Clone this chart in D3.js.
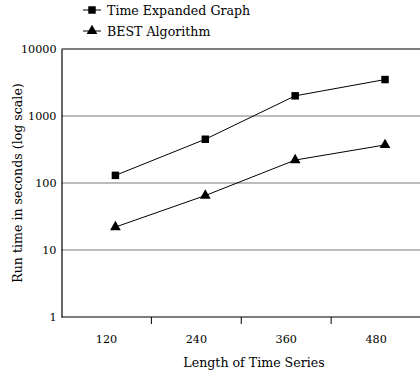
<!DOCTYPE html>
<html>
<head>
<meta charset="utf-8">
<script src="https://cdn.jsdelivr.net/npm/d3@7"></script>
<style>
  body { margin: 0; background: #fff; }
  svg { display: block; font-family: "DejaVu Serif", serif; }
</style>
</head>
<body>
<svg id="chart" width="420" height="377"></svg>
<script>
// data
const lengths = ["120", "240", "360", "480"];
const timeExpanded = [130, 450, 2000, 3500];
const bestAlgorithm = [22, 65, 220, 370];
const yTicks = [1, 10, 100, 1000, 10000];
const seriesNames = ["Time Expanded Graph", "BEST Algorithm"];

const svg = d3.select("#chart");

const margin = { top: 49, right: -1, bottom: 60, left: 61.5 };
const width = +svg.attr("width");
const height = +svg.attr("height");
const titleSize = 12.6;

const x = d3.scaleBand()
  .domain(lengths)
  .range([margin.left, width - margin.right]);

const y = d3.scaleLog()
  .domain([1, 10000])
  .range([height - margin.bottom, margin.top]);

// markers sit a bit right of the band centre, like the original
const px = d => x(d) + x.bandwidth() * 0.6;

// gridlines
svg.append("g")
  .selectAll("line")
  .data(yTicks.filter(d => d > 1 && d < 10000))
  .join("line")
  .attr("x1", margin.left)
  .attr("x2", width)
  .attr("y1", d => y(d))
  .attr("y2", d => y(d))
  .attr("stroke", "#7a7a7a")
  .attr("stroke-width", 1.2);

// top border
svg.append("line")
  .attr("x1", margin.left).attr("x2", width)
  .attr("y1", y(10000)).attr("y2", y(10000))
  .attr("stroke", "#000").attr("stroke-width", 1.2);

// y axis
const yAxis = svg.append("g")
  .attr("transform", `translate(${margin.left},0)`)
  .call(d3.axisLeft(y).tickValues(yTicks).tickFormat(d3.format("d")).tickSize(0).tickPadding(5));
yAxis.select(".domain").attr("stroke", "#000").attr("stroke-width", 1.2);
yAxis.selectAll("text").attr("font-size", 11.2).attr("font-family", "DejaVu Serif").attr("fill", "#000");

// x axis, ticks sit between categories
const xAxis = svg.append("g")
  .attr("transform", `translate(0,${y(1)})`)
  .call(d3.axisBottom(x).tickSize(0).tickPadding(18));
xAxis.select(".domain").remove();
xAxis.selectAll("text").attr("font-size", 11.2).attr("font-family", "DejaVu Serif").attr("fill", "#000");
xAxis.append("line")
  .attr("x1", margin.left).attr("x2", width)
  .attr("stroke", "#000").attr("stroke-width", 1.2);
xAxis.selectAll(".sep")
  .data(lengths.slice(1))
  .join("line")
  .attr("class", "sep")
  .attr("x1", d => x(d)).attr("x2", d => x(d))
  .attr("y1", 0).attr("y2", 7)
  .attr("stroke", "#000");

// axis titles
svg.append("text")
  .attr("x", 254)
  .attr("y", 367)
  .attr("text-anchor", "middle")
  .attr("font-size", titleSize)
  .text("Length of Time Series");

svg.append("text")
  .attr("transform", `translate(22,${(y(1) + y(10000)) / 2}) rotate(-90)`)
  .attr("text-anchor", "middle")
  .attr("font-size", titleSize)
  .text("Run time in seconds (log scale)");

// series
const line = d3.line()
  .x((d, i) => px(lengths[i]))
  .y(d => y(d));

const square = d3.symbol().type(d3.symbolSquare).size(56);
const triangle = d3.symbol().type(d3.symbolTriangle).size(50);

const series = [
  { name: seriesNames[0], values: timeExpanded, symbol: square },
  { name: seriesNames[1], values: bestAlgorithm, symbol: triangle }
];

series.forEach(s => {
  svg.append("path")
    .datum(s.values)
    .attr("fill", "none")
    .attr("stroke", "#000")
    .attr("stroke-width", 1)
    .attr("d", line);

  svg.append("g")
    .selectAll("path")
    .data(s.values)
    .join("path")
    .attr("transform", (d, i) => `translate(${px(lengths[i])},${y(d)})`)
    .attr("d", s.symbol)
    .attr("fill", "#000");
});

// legend
const legend = svg.append("g");
series.forEach((s, i) => {
  const ly = 10 + i * 21;
  legend.append("line")
    .attr("x1", 83).attr("x2", 101)
    .attr("y1", ly).attr("y2", ly)
    .attr("stroke", "#000");
  legend.append("path")
    .attr("transform", `translate(92,${ly})`)
    .attr("d", s.symbol)
    .attr("fill", "#000");
  legend.append("text")
    .attr("x", 107)
    .attr("y", ly + 5)
    .attr("font-size", titleSize)
    .text(s.name);
});
</script>
</body>
</html>
